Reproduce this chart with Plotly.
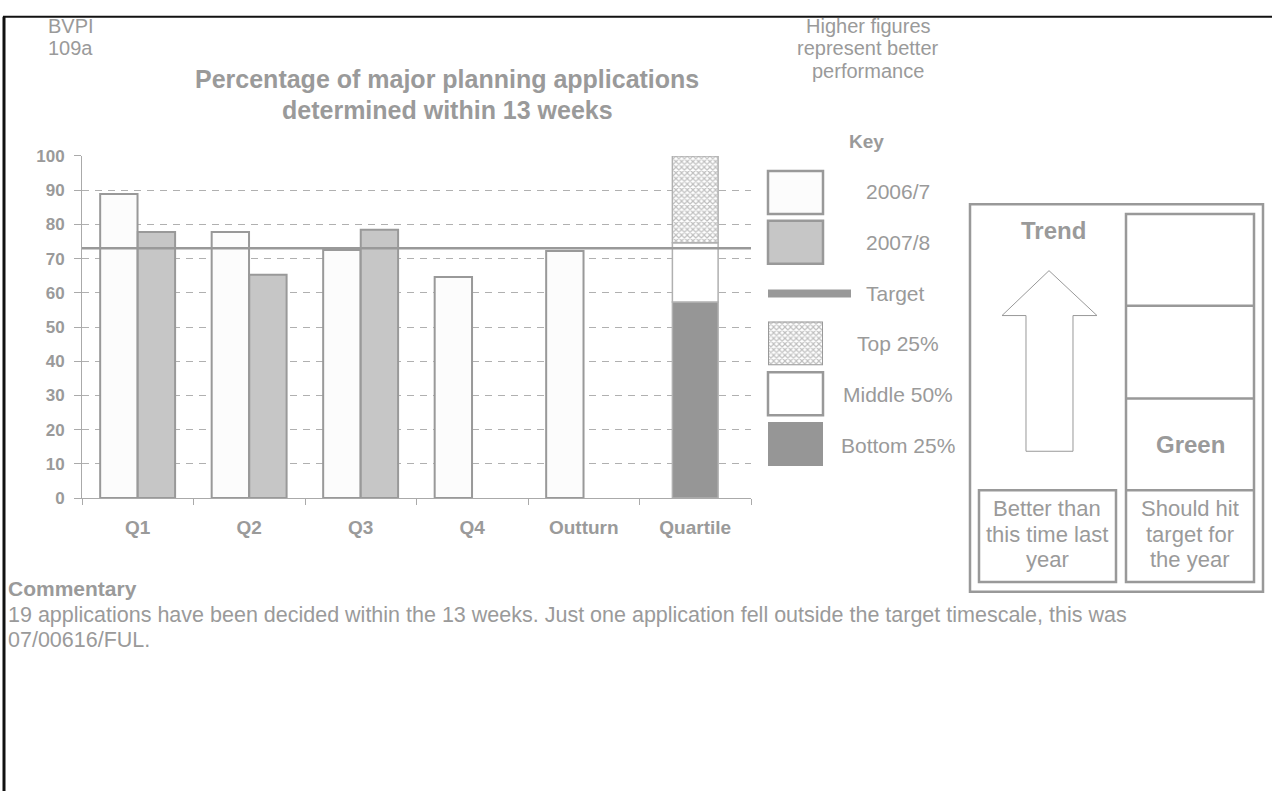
import plotly.graph_objects as go

# ---- data ----
categories = ["Q1", "Q2", "Q3", "Q4", "Outturn", "Quartile"]
pct_2006_7 = [88.9, 77.8, 72.5, 64.6, 72.2, None]
pct_2007_8 = [77.8, 65.3, 78.4, None, None, None]
target = 73
quartile_bottom = 57.3   # bottom 25% upper bound
quartile_middle = 74.6   # middle 50% upper bound
quartile_top = 100       # top 25% upper bound
y_ticks = list(range(0, 101, 10))

W, H = 1272, 801
GREY = "#999999"
TEXT = "#9a9a9a"
FONT = "Liberation Sans"


def px(x):
    return x / W


def py(y):
    return 1 - y / H


fig = go.Figure()

checker = dict(shape="x", fgcolor="#808080", bgcolor="#ffffff", size=4, solidity=0.5)

bar_line = dict(color=GREY, width=2)
fig.add_trace(go.Bar(x=categories, y=pct_2006_7, name="2006/7", offset=-0.337, width=0.335,
                     marker=dict(color="#fcfcfc", line=bar_line)))
fig.add_trace(go.Bar(x=categories, y=pct_2007_8, name="2007/8", offset=0.0, width=0.335,
                     marker=dict(color="#c6c6c6", line=bar_line)))

# quartile stack in the last category
q_line = dict(color="#b0b0b0", width=1.5)
fig.add_trace(go.Bar(x=["Quartile"], y=[quartile_bottom], base=[0], offset=-0.205, width=0.41,
                     marker=dict(color="#969696", line=q_line)))
fig.add_trace(go.Bar(x=["Quartile"], y=[quartile_middle - quartile_bottom], base=[quartile_bottom],
                     offset=-0.205, width=0.41, marker=dict(color="#ffffff", line=q_line)))
fig.add_trace(go.Bar(x=["Quartile"], y=[quartile_top - quartile_middle], base=[quartile_middle],
                     offset=-0.205, width=0.41,
                     marker=dict(color="#ffffff", line=q_line, pattern=checker)))

# patterned key swatch on its own small hidden axes
fig.add_trace(go.Bar(x=[0], y=[1], width=[1], xaxis="x2", yaxis="y2",
                     marker=dict(color="#ffffff", line=dict(color=GREY, width=2), pattern=checker)))

shapes = []
# target line across the plot
shapes.append(dict(type="line", xref="x domain", yref="y", x0=0, x1=1, y0=target, y1=target,
                   line=dict(color=GREY, width=2.5), layer="above"))

# page border (top and left)
shapes.append(dict(type="line", xref="paper", yref="paper", x0=px(3), x1=1, y0=py(8), y1=py(8),
                   line=dict(color="#111111", width=2)))
shapes.append(dict(type="line", xref="paper", yref="paper", x0=px(4), x1=px(4), y0=py(8), y1=0,
                   line=dict(color="#111111", width=3)))


def rect(x0, y0, x1, y1, fill="rgba(0,0,0,0)", color=GREY, width=2.5):
    return dict(type="rect", xref="paper", yref="paper", x0=px(x0), x1=px(x1), y0=py(y1), y1=py(y0),
                fillcolor=fill, line=dict(color=color, width=width))


def hline(x0, x1, y, width=2.5, color=GREY):
    return dict(type="line", xref="paper", yref="paper", x0=px(x0), x1=px(x1), y0=py(y), y1=py(y),
                line=dict(color=color, width=width))


# key swatches
shapes.append(rect(768, 166, 823, 210, fill="#fcfcfc"))
shapes.append(rect(768, 217, 823, 261, fill="#c6c6c6"))
shapes.append(hline(768, 851, 291.5, width=8))
shapes.append(rect(768, 372, 823, 416, fill="#ffffff"))
shapes.append(rect(768, 423, 823, 468, fill="#969696", color="#969696", width=0))

# trend / status panel
shapes.append(rect(970, 200, 1263, 597, width=2.5))
shapes.append(rect(1126, 210, 1254, 587))
shapes.append(hline(1126, 1254, 304))
shapes.append(hline(1126, 1254, 399))
shapes.append(hline(1126, 1254, 493))
shapes.append(rect(979, 493, 1116, 587))

arrow_pts = [(1049, 268), (1097, 314), (1073, 314), (1073, 453), (1026, 453), (1026, 314), (1002, 314)]
path = "M " + " L ".join(f"{px(x):.5f},{py(y):.5f}" for x, y in arrow_pts) + " Z"
shapes.append(dict(type="path", xref="paper", yref="paper", path=path, fillcolor="#ffffff",
                   line=dict(color=GREY, width=1)))

annotations = []


def label(text, x, y, size, bold=False, xanchor="center"):
    annotations.append(dict(text=f"<b>{text}</b>" if bold else text, x=px(x), y=py(y),
                            xref="paper", yref="paper", xanchor=xanchor, yanchor="middle",
                            showarrow=False, align="center" if xanchor == "center" else "left",
                            font=dict(family=FONT, size=size, color=TEXT)))


label("BVPI", 46, 17, 20, xanchor="left")
label("109a", 46, 40, 20, xanchor="left")
label("Percentage of major planning applications", 447, 72, 25, bold=True)
label("determined within 13 weeks", 447, 103, 25, bold=True)
label("Higher figures", 868, 17, 20)
label("represent better", 868, 40, 20)
label("performance", 868, 63, 20)
label("Key", 866, 136, 19, bold=True)
label("2006/7", 898, 187, 21)
label("2007/8", 898, 239, 21)
label("Target", 896, 291, 21)
label("Top 25%", 898, 343, 21)
label("Middle 50%", 898, 395, 21)
label("Bottom 25%", 898, 447, 21)
label("Trend", 1053, 227, 24, bold=True)
label("Green", 1190, 446, 24, bold=True)
label("Better than", 1047, 512, 22)
label("this time last", 1047, 538, 22)
label("year", 1047, 564, 22)
label("Should hit", 1190, 512, 22)
label("target for", 1190, 538, 22)
label("the year", 1190, 564, 22)
label("Commentary", 6, 594, 21, bold=True, xanchor="left")
label("19 applications have been decided within the 13 weeks. Just one application fell outside the target timescale, this was",
      6, 621, 21.5, xanchor="left")
label("07/00616/FUL.", 6, 646, 21.5, xanchor="left")

fig.update_layout(
    width=W, height=H, margin=dict(l=0, r=0, t=0, b=0),
    paper_bgcolor="#ffffff", plot_bgcolor="#ffffff",
    barmode="overlay", showlegend=False,
    font=dict(family=FONT, color=TEXT),
    shapes=shapes, annotations=annotations,
    xaxis=dict(domain=[px(82), px(751)], type="category", categoryorder="array", categoryarray=categories,
               range=[-0.5, 5.5], showline=True, linecolor="#aaaaaa", linewidth=1,
               ticks="outside", tickson="boundaries", ticklen=6, tickcolor="#aaaaaa",
               ticklabelstandoff=12, showgrid=False,
               tickfont=dict(family=FONT, size=19, color=TEXT, weight="bold")),
    yaxis=dict(domain=[py(501), py(150.5)], range=[0, 100], tickvals=y_ticks,
               showline=True, linecolor="#aaaaaa", linewidth=1, ticks="outside", ticklen=7,
               tickcolor="#aaaaaa", ticklabelstandoff=6, showgrid=True, gridcolor="#b0b0b0",
               griddash="7px,6px", gridwidth=1, zeroline=False,
               tickfont=dict(family=FONT, size=17, color=TEXT, weight="bold")),
    xaxis2=dict(domain=[px(768), px(823)], range=[-0.5, 0.5], visible=False, anchor="y2"),
    yaxis2=dict(domain=[py(365), py(320)], range=[0, 1], visible=False, anchor="x2"),
)

fig.write_html("out.html")
